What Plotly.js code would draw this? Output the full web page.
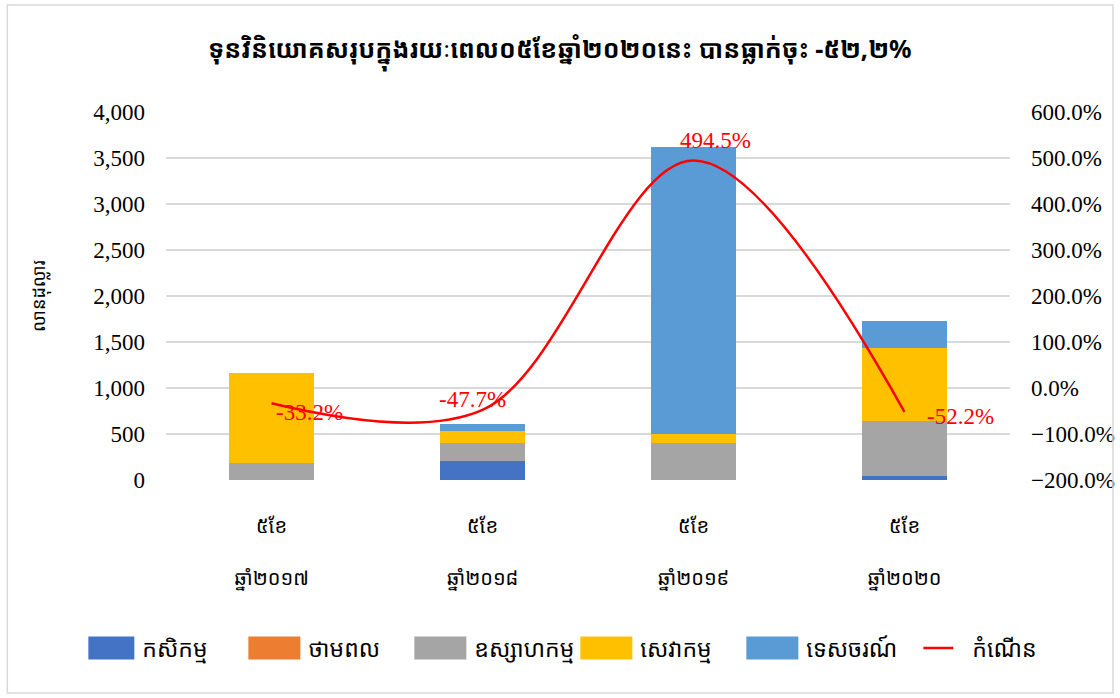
<!DOCTYPE html>
<html>
<head>
<meta charset="utf-8">
<script src="https://cdn.plot.ly/plotly-3.0.1.min.js"></script>
<style>
  body{margin:0;background:#fff;}
  #chart{width:1120px;height:698px;}
</style>
</head>
<body>
<div id="chart"></div>
<script>
const categories=['៥ខែ<br> <br>ឆ្នាំ២០១៧','៥ខែ<br> <br>ឆ្នាំ២០១៨','៥ខែ<br> <br>ឆ្នាំ២០១៩','៥ខែ<br> <br>ឆ្នាំ២០២០'];
const agriculture=[0,210,0,47];
const energy=[0,0,0,0];
const industry=[185,192,399,594];
const services=[978,131,104,790];
const tourism=[0,76,3117,301];
const growth=[-33.2,-47.7,494.5,-52.2];
const growthLabels=['-33.2%','-47.7%','494.5%','-52.2%'];
const labelShiftX=[38,-10,22,56];
const labelShiftY=[-9,10,20,-4];

const serif='"Liberation Serif","Times New Roman",serif';
const khmer='"Noto Sans Khmer","Khmer OS","Noto Sans","DejaVu Sans",sans-serif';

const bar=(y,name,color)=>({x:categories,y,name,type:'bar',marker:{color},hoverinfo:'skip'});

const labels=growth.map((g,i)=>({x:categories[i],y:g,yref:'y2',text:growthLabels[i],showarrow:false,
  xshift:labelShiftX[i],yshift:labelShiftY[i],font:{family:serif,size:23,color:'#FF0000'}}));

// widen the legend keys to the flat office-style swatches
function fixLegend(){
  const gd=document.getElementById('chart');
  gd.querySelectorAll('.legend .legendpoints path').forEach(p=>{
    const d=p.getAttribute('d')||'';
    if(d.startsWith('M6,6')) p.setAttribute('d','M26,11.5H-26V-11.5H26Z');
    else if(d.startsWith('M5,0')) p.setAttribute('d','M-6,0h50');
  });
  gd.querySelectorAll('.legend text.legendtext').forEach(t=>t.setAttribute('x','54'));
}

Plotly.newPlot('chart',[
  bar(agriculture,'កសិកម្ម','#4472C4'),
  bar(energy,'ថាមពល','#ED7D31'),
  bar(industry,'ឧស្សាហកម្ម','#A5A5A5'),
  bar(services,'សេវាកម្ម','#FFC000'),
  bar(tourism,'ទេសចរណ៍','#5B9BD5'),
  {x:categories,y:growth,name:'កំណើន',type:'scatter',mode:'lines',yaxis:'y2',
   line:{color:'#FF0000',width:2.5,shape:'spline',smoothing:1},hoverinfo:'skip'}
],{
  barmode:'stack',bargap:0.6,
  title:{text:'<b>ទុនវិនិយោគសរុបក្នុងរយៈពេល០៥ខែឆ្នាំ២០២០នេះ បានធ្លាក់ចុះ -៥២,២%</b>',
    font:{family:khmer,size:25,color:'#000'},x:0.5,xanchor:'center',y:0.93,yanchor:'middle'},
  xaxis:{tickfont:{family:khmer,size:20,color:'#000'},showline:false,ticks:'',ticklabelstandoff:32},
  yaxis:{range:[0,4000],dtick:500,tickformat:',d',gridcolor:'#D9D9D9',gridwidth:1.5,zeroline:false,
    tickfont:{family:serif,size:23,color:'#000'},ticklabelstandoff:20,
    title:{text:'លានដុល្លារ',font:{family:khmer,size:18,color:'#000'},standoff:42}},
  yaxis2:{overlaying:'y',side:'right',range:[-200,600],dtick:100,tickformat:'.1f',ticksuffix:'%',
    showgrid:false,zeroline:false,tickfont:{family:serif,size:23,color:'#000'},ticklabelstandoff:20},
  legend:{orientation:'h',x:-0.092,xanchor:'left',y:-0.4565,yanchor:'middle',
    font:{family:khmer,size:23,color:'#000'},entrywidth:121,entrywidthmode:'pixels',traceorder:'normal'},
  annotations:labels,
  margin:{l:166,r:110,t:112,b:218,autoexpand:false},
  paper_bgcolor:'#fff',plot_bgcolor:'#fff',
  shapes:[{type:'rect',xref:'paper',yref:'paper',x0:-0.188,x1:1.122,y0:-0.579,y1:1.291,
    line:{color:'#D9D9D9',width:1.5}}],
  showlegend:true
},{staticPlot:true,displayModeBar:false}).then(gd=>{
  fixLegend();
  gd.on('plotly_afterplot',fixLegend);
  setTimeout(fixLegend,200);
});
</script>
</body>
</html>
